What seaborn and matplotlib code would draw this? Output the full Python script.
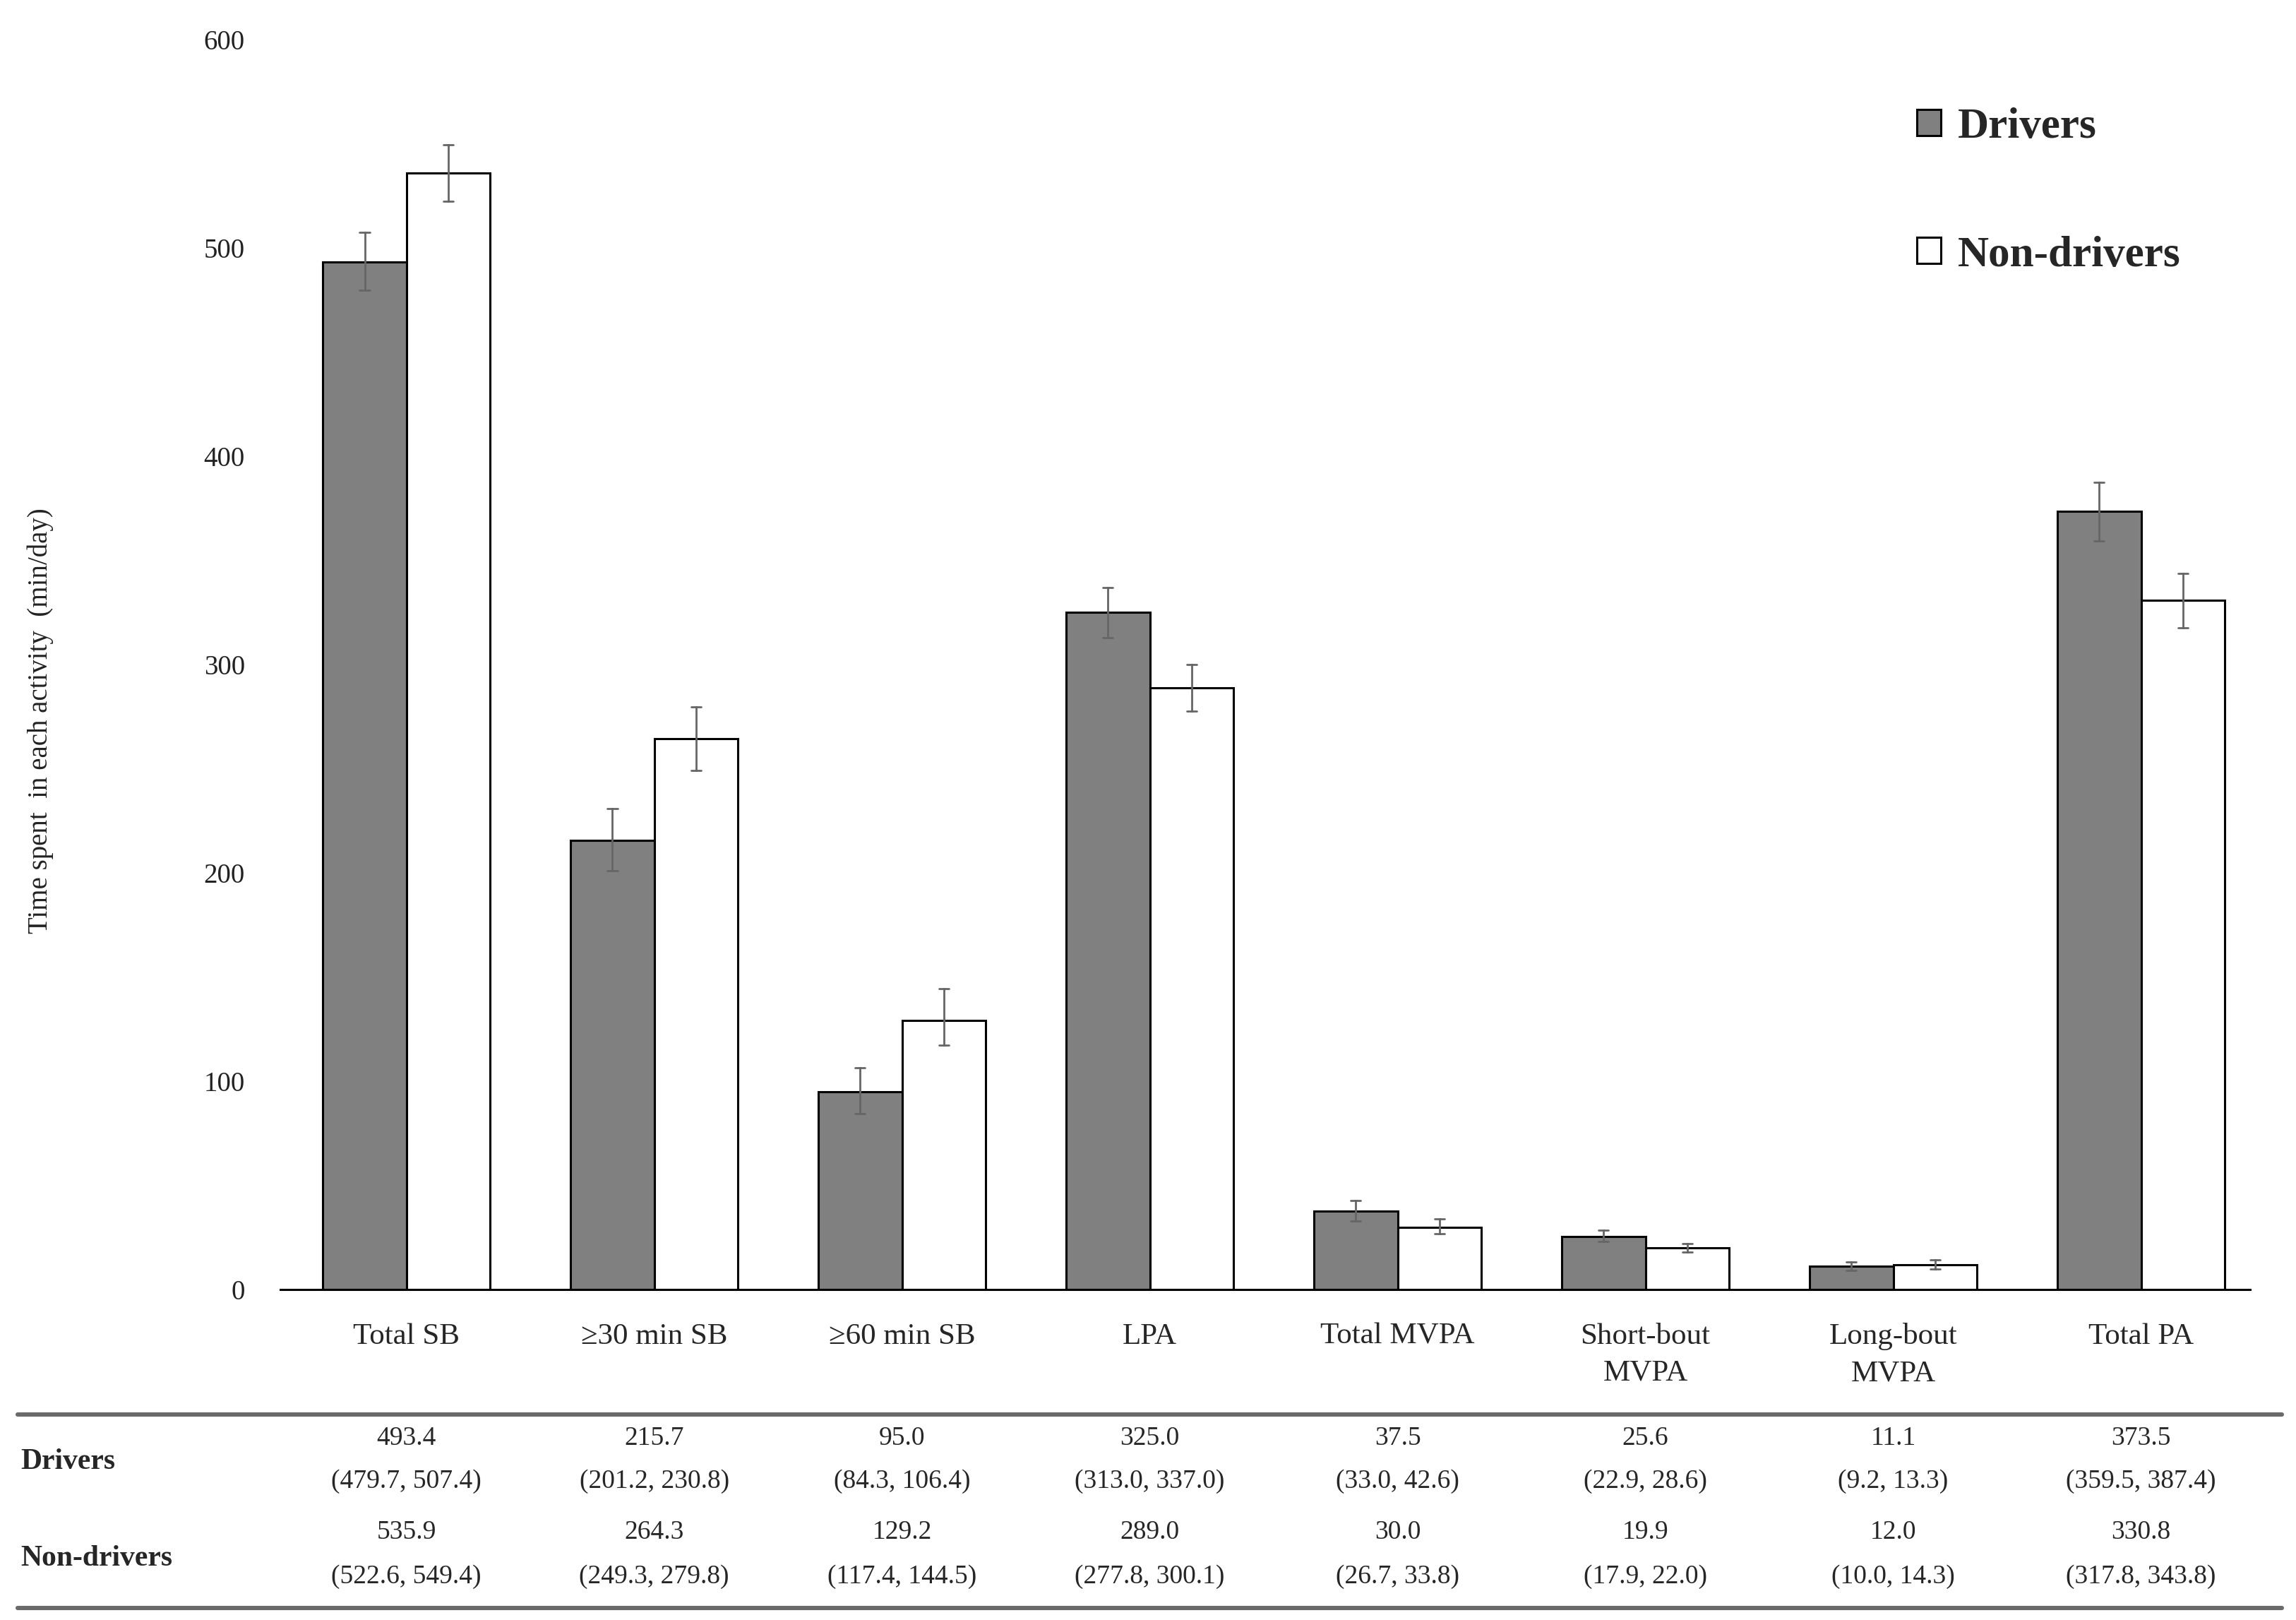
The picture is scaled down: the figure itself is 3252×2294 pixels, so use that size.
import numpy as np
import pandas as pd
import seaborn as sns
import matplotlib.pyplot as plt
from matplotlib.lines import Line2D

# data (mean and 95% CI, min/day)
activities = ["Total SB", "\u226530 min SB", "\u226560 min SB", "LPA", "Total MVPA",
              "Short-bout\nMVPA", "Long-bout\nMVPA", "Total PA"]
groups = ["Drivers", "Non-drivers"]
drivers_mean = [493.4, 215.7, 95.0, 325.0, 37.5, 25.6, 11.1, 373.5]
drivers_low = [479.7, 201.2, 84.3, 313.0, 33.0, 22.9, 9.2, 359.5]
drivers_high = [507.4, 230.8, 106.4, 337.0, 42.6, 28.6, 13.3, 387.4]
nondrivers_mean = [535.9, 264.3, 129.2, 289.0, 30.0, 19.9, 12.0, 330.8]
nondrivers_low = [522.6, 249.3, 117.4, 277.8, 26.7, 17.9, 10.0, 317.8]
nondrivers_high = [549.4, 279.8, 144.5, 300.1, 33.8, 22.0, 14.3, 343.8]

# long table: low / mean / high per bar -> median gives the mean, full range gives the CI
rows = []
for g, m, lo, hi in [("Drivers", drivers_mean, drivers_low, drivers_high),
                     ("Non-drivers", nondrivers_mean, nondrivers_low, nondrivers_high)]:
    for a, mm, ll, hh in zip(activities, m, lo, hi):
        for v in (ll, mm, hh):
            rows.append({"Activity": a, "Group": g, "Minutes": v})
df = pd.DataFrame(rows)

sns.set_style("white")
plt.rcParams['font.family'] = ['Liberation Serif', 'DejaVu Serif']

fig = plt.figure(figsize=(16.26, 11.47), dpi=200)
ax = fig.add_axes([0.122, 0.204, 0.858, 0.7715])

sns.barplot(data=df, x="Activity", y="Minutes", hue="Group", order=activities, hue_order=groups,
            estimator=np.median, errorbar=("pi", 100), palette={"Drivers": "#808080", "Non-drivers": "white"},
            edgecolor="black", linewidth=1.1, width=0.675, capsize=0.08,
            err_kws={"color": "#666666", "linewidth": 1.0}, ax=ax)

ax.set_ylim(0, 600)
ax.set_xlim(-0.51, 7.44)
ax.set_yticks(range(0, 601, 100))
sns.despine(ax=ax, left=True)
ax.spines['bottom'].set_color("black")
ax.spines['bottom'].set_linewidth(1.1)
ax.tick_params(axis='both', length=0)
ax.tick_params(axis='x', pad=17, labelsize=15.5)
ax.tick_params(axis='y', pad=18, labelsize=14, labelcolor="#222222")
for lab in ax.get_xticklabels():
    lab.set_linespacing(1.45)
ax.set_xlabel("")
ax.set_ylabel("Time spent  in each activity  (min/day)", fontsize=14, color="#222222")
ax.yaxis.set_label_coords(-0.115, 0.455)

handles = [plt.Rectangle((0, 0), 1, 1, facecolor="#808080", edgecolor="black", linewidth=1.1),
           plt.Rectangle((0, 0), 1, 1, facecolor="white", edgecolor="black", linewidth=1.1)]
ax.legend(handles, groups, loc="upper left", bbox_to_anchor=(0.82, 0.963), frameon=False,
          prop={"size": 22, "weight": "bold"}, handlelength=0.55, handleheight=0.55,
          handletextpad=0.4, labelspacing=2.05, borderpad=0)

# summary table below the chart
for y in (0.127, 0.0075):
    fig.add_artist(Line2D([0.0077, 0.994], [y, y], transform=fig.transFigure, color="#6a6a6a", linewidth=2.2))

fig.text(0.009, 0.0975, "Drivers", fontsize=15, fontweight="bold", va="center", ha="left")
fig.text(0.009, 0.038, "Non-drivers", fontsize=15, fontweight="bold", va="center", ha="left")
for i in range(len(activities)):
    xf = fig.transFigure.inverted().transform(ax.transData.transform((i, 0)))[0]
    fig.text(xf, 0.112, f"{drivers_mean[i]:.1f}", fontsize=13.5, ha="center", va="center")
    fig.text(xf, 0.0855, f"({drivers_low[i]:.1f}, {drivers_high[i]:.1f})", fontsize=13.5, ha="center", va="center")
    fig.text(xf, 0.054, f"{nondrivers_mean[i]:.1f}", fontsize=13.5, ha="center", va="center")
    fig.text(xf, 0.0266, f"({nondrivers_low[i]:.1f}, {nondrivers_high[i]:.1f})", fontsize=13.5, ha="center", va="center")

plt.savefig("out.png", dpi=200)
